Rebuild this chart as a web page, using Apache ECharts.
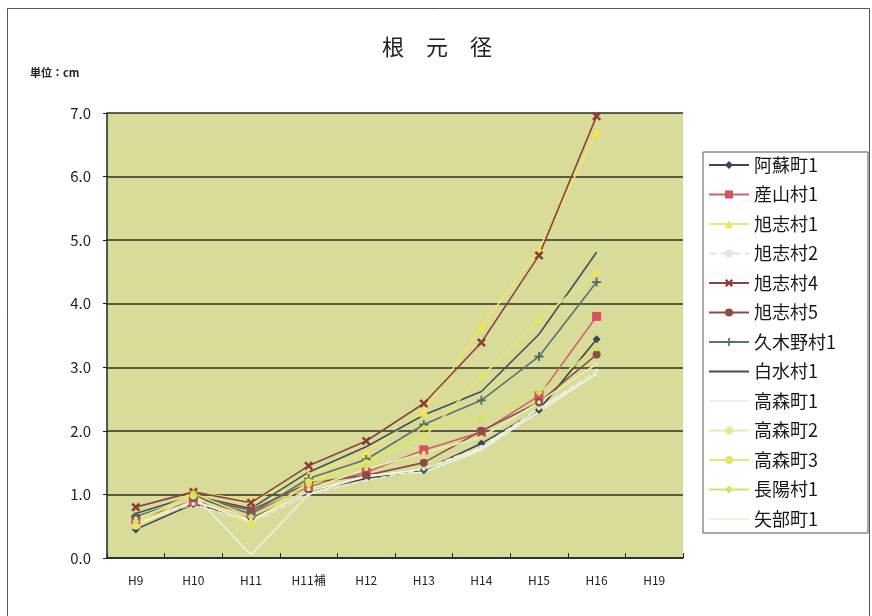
<!DOCTYPE html>
<html>
<head>
<meta charset="utf-8">
<script src="https://cdn.jsdelivr.net/npm/echarts@6/dist/echarts.min.js"></script>
<style>
  html, body { margin: 0; padding: 0; background: #ffffff; }
  #chart { width: 872px; height: 616px; }
</style>
</head>
<body>
<div id="chart"></div>
<script>
// 年度区分
const categories = ['H9', 'H10', 'H11', 'H11補', 'H12', 'H13', 'H14', 'H15', 'H16', 'H19'];

// 各地点の根元径 (cm)
const aso1      = [0.45, 0.85, 0.62, 1.05, 1.25, 1.38, 1.80, 2.33, 3.44, null];
const ubuyama1  = [0.60, 0.90, 0.70, 1.12, 1.35, 1.70, 1.98, 2.55, 3.80, null];
const kyokushi1 = [0.55, 1.04, 0.90, 1.30, 1.66, 2.30, 3.64, 4.85, 6.70, null];
const kyokushi2 = [0.55, 0.85, 0.55, 1.00, 1.22, 1.40, 1.75, 2.35, 2.95, null];
const kyokushi4 = [0.80, 1.04, 0.87, 1.45, 1.84, 2.43, 3.39, 4.76, 6.95, null];
const kyokushi5 = [0.65, 0.95, 0.75, 1.18, 1.30, 1.50, 2.00, 2.45, 3.20, null];
const kugino1   = [0.65, 0.95, 0.70, 1.25, 1.55, 2.10, 2.48, 3.17, 4.34, null];
const hakusui1  = [0.70, 0.98, 0.78, 1.35, 1.75, 2.25, 2.62, 3.52, 4.81, null];
const takamori1 = [0.60, 1.00, 0.05, 1.00, 1.30, 1.35, 1.70, 2.30, 2.90, null];
const takamori2 = [0.62, 0.95, 0.60, 1.08, 1.40, 1.65, 1.90, 2.45, 3.05, null];
const takamori3 = [0.50, 0.98, 0.52, 1.20, 1.50, 1.90, 2.85, 3.75, 4.48, null];
const choyo1    = [0.58, 1.02, 0.65, 1.15, 1.45, 2.05, 2.20, 2.60, 3.30, null];
const yabe1     = [0.52, 0.90, 0.58, 1.05, 1.28, 1.40, 1.72, 2.35, 2.90, null];

// 軸目盛
const yTicks = { min: 0, max: 7, interval: 1 };

const CROSS = 'path://M0,2L2,0L5,3L8,0L10,2L7,5L10,8L8,10L5,7L2,10L0,8L3,5Z';
const PLUS  = 'path://M4,0H6V4H10V6H6V10H4V6H0V4H4Z';

function line(name, data, color, symbol, size, markerColor, dashed) {
  return {
    name: name,
    type: 'line',
    data: data,
    symbol: symbol,
    symbolSize: size,
    showSymbol: symbol !== 'none',
    connectNulls: false,
    lineStyle: { color: color, width: 1.6, type: dashed ? 'dashed' : 'solid' },
    itemStyle: { color: markerColor || color },
    emphasis: { disabled: true },
    animation: false
  };
}

const series = [
  line('阿蘇町1',   aso1,      '#3b4658', 'diamond',  8, '#3b4658'),
  line('産山村1',   ubuyama1,  '#cc6470', 'rect',     9, '#d9505f'),
  line('旭志村1',   kyokushi1, '#efe66a', 'triangle', 10, '#f2e35a'),
  line('旭志村2',   kyokushi2, '#e4e8d6', 'circle',   4, '#e4e8d6', true),
  line('旭志村4',   kyokushi4, '#8c4242', CROSS,      9, '#8c3a3a'),
  line('旭志村5',   kyokushi5, '#8a4c46', 'circle',   8, '#8a4c46'),
  line('久木野村1', kugino1,   '#5a7272', PLUS,       9, '#4e6a6a'),
  line('白水村1',   hakusui1,  '#3e5062', 'none',     0),
  line('高森町1',   takamori1, '#eef1e2', 'none',     0),
  line('高森町2',   takamori2, '#e9ecb0', 'circle',   4, '#e6ea9a'),
  line('高森町3',   takamori3, '#e6e672', 'circle',   7, '#e4e466'),
  line('長陽村1',   choyo1,    '#d6e46c', 'diamond',  7, '#d2e25a'),
  line('矢部町1',   yabe1,     '#f0f3e2', 'none',     0)
];

// 凡例: マーカーなし系列は線のみ表示
const legendData = series.map(s => (
  s.symbol === 'none' ? { name: s.name, itemStyle: { opacity: 0 } } : { name: s.name }
));

const chart = echarts.init(document.getElementById('chart'), null, { renderer: 'canvas' });

chart.setOption({
  backgroundColor: '#ffffff',
  animation: false,
  textStyle: { fontFamily: '"Noto Sans CJK JP", "Noto Sans", sans-serif' },
  title: {
    text: '根　元　径',
    left: 432,
    top: 31,
    textAlign: 'center',
    textStyle: { fontSize: 22, fontWeight: 'normal', color: '#222222', fontFamily: '"Noto Sans CJK JP", sans-serif' }
  },
  graphic: [
    {
      type: 'rect',
      shape: { x: 7.5, y: 8.5, width: 862, height: 610 },
      style: { fill: 'none', stroke: '#555555', lineWidth: 1 },
      silent: true
    },
    {
      type: 'text',
      left: 30,
      top: 67,
      style: { text: '単位：cm', fontSize: 11, fontWeight: 'bold', fill: '#222222', fontFamily: '"Noto Sans CJK JP", sans-serif' },
      silent: true
    }
  ],
  legend: {
    orient: 'vertical',
    left: 703,
    top: 152,
    padding: [4, 32, 5, 5],
    itemWidth: 40,
    itemHeight: 10,
    itemGap: 11.5,
    backgroundColor: '#ffffff',
    borderColor: '#555555',
    borderWidth: 1,
    textStyle: { fontSize: 18, lineHeight: 18, color: '#161616' },
    data: legendData
  },
  grid: {
    left: 107,
    right: 189,
    top: 113,
    bottom: 58,
    show: true,
    backgroundColor: '#d8dc98',
    borderWidth: 0
  },
  xAxis: {
    type: 'category',
    data: categories,
    boundaryGap: true,
    axisLine: { show: true, lineStyle: { color: '#222222', width: 1.5 } },
    axisTick: { show: true, inside: true, length: 5, alignWithLabel: false, lineStyle: { color: '#222222' } },
    axisLabel: { fontSize: 12, color: '#222222', margin: 16 },
    splitLine: { show: false }
  },
  yAxis: {
    type: 'value',
    min: yTicks.min,
    max: yTicks.max,
    interval: yTicks.interval,
    axisLine: { show: true, lineStyle: { color: '#222222', width: 1.5 } },
    axisTick: { show: true, length: 4, lineStyle: { color: '#222222' } },
    axisLabel: { fontSize: 15, color: '#222222', margin: 16, formatter: v => v.toFixed(1) },
    splitLine: { show: true, lineStyle: { color: '#2e2e2e', width: 1.5 } }
  },
  series: series
});
</script>
</body>
</html>
